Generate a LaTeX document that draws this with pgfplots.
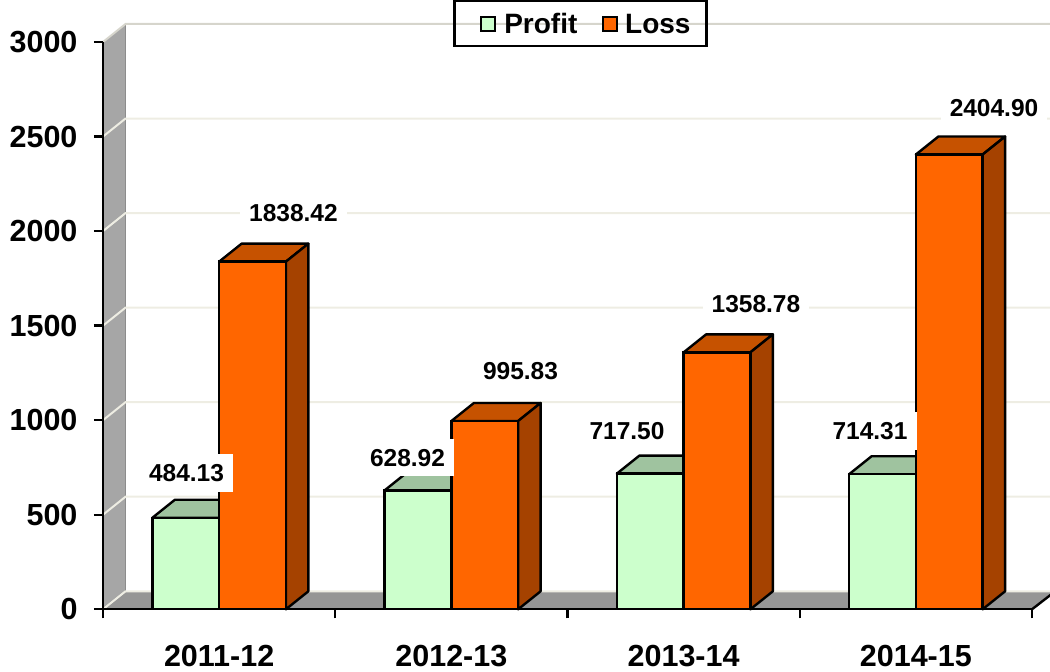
\documentclass[border=0pt]{standalone}
\usepackage{fontspec}
\setmainfont{Liberation Sans}
\usepackage{pgfplots}
\pgfplotsset{compat=1.18}
\definecolor{pgreen}{HTML}{CCFFCC}
\definecolor{pgreentop}{HTML}{9FC39F}
\definecolor{lorange}{HTML}{FF6600}
\definecolor{lorangetop}{HTML}{C65200}
\definecolor{lorangeside}{HTML}{A54200}
\definecolor{wallc}{HTML}{A6A6A6}
\definecolor{floorc}{HTML}{969696}
\definecolor{gridc}{HTML}{EEEDE3}
\newcommand{\topface}[4]{%
  \pgfmathsetmacro\xa{#1+0.09688}\pgfmathsetmacro\xb{#2+0.09688}\pgfmathsetmacro\yb{#3+95.2}%
  \edef\tmp{\noexpand\addplot[fill=#4,draw=black,line width=2.4pt,line join=round,forget plot] coordinates {(#1,#3)(\xa,\yb)(\xb,\yb)(#2,#3)} --cycle;}\tmp}
\newcommand{\sideface}[3]{%
  \pgfmathsetmacro\xb{#1+0.09688}\pgfmathsetmacro\yb{#2+95.2}%
  \edef\tmp{\noexpand\addplot[fill=#3,draw=black,line width=2.4pt,line join=round,forget plot] coordinates {(#1,0)(\xb,95.2)(\xb,\yb)(#1,#2)} --cycle;}\tmp}
\newcommand{\gridat}[2]{%
  \pgfmathsetmacro\yb{#1+95.2}%
  \edef\tmp{\noexpand\addplot[draw=#2,line width=2pt,forget plot] coordinates {(0,#1)(0.09688,\yb)(4.1,\yb)};}\tmp}
\tikzset{dlab/.style={fill=white,font=\fontsize{24.5}{24.5}\selectfont\bfseries,inner xsep=9pt,inner ysep=10pt,text height=17.5pt,text depth=0pt}}
\begin{document}
\begin{tikzpicture}
\begin{axis}[
  name=main,
  at={(103pt,62.7pt)},anchor=south west,
  scale only axis,width=929pt,height=567.3pt,
  xmin=0,xmax=4,ymin=0,ymax=3000,clip=false,
  axis x line*=bottom,axis y line*=left,
  axis line style={line width=2.4pt,black,-},
  tick align=outside,major tick length=9pt,
  tick style={line width=2.4pt,black},
  minor tick num=0,
  xtick={0,1,2,3,4},
  x tick label as interval,
  xticklabels={2011-12,2012-13,2013-14,2014-15},
  ytick={0,500,1000,1500,2000,2500,3000},
  /pgf/number format/assume math mode=true,
  /pgf/number format/1000 sep={},
  ticklabel style={font=\fontsize{30.5}{30.5}\selectfont\bfseries},
  xticklabel style={yshift=-23pt},
  yticklabel style={xshift=-13pt},
  axis on top,
  legend columns=2,
  legend style={at={(axis description cs:0.514,1.074)},anchor=north,fill=none,draw=black,line width=2.4pt,
    font=\fontsize{28}{28}\selectfont\bfseries,
    inner xsep=26pt,inner ysep=10.5pt,
    /tikz/every even column/.append style={column sep=23pt},
    nodes={inner xsep=2pt,text height=20pt,text depth=0pt}},
]
% walls
\addplot[fill=wallc,draw=none,forget plot] coordinates {(0,0)(0.09688,95.2)(0.09688,3095.2)(0,3000)} --cycle;
\addplot[fill=floorc,draw=none,forget plot] coordinates {(0,0)(0.09688,95.2)(4.1,95.2)(4,0)} --cycle;
\addplot[draw=black!45,line width=1pt,forget plot] coordinates {(0.09688,95.2)(0.09688,3095.2)};
\gridat{0}{gridc}
\gridat{500}{gridc}
\gridat{1000}{gridc}
\gridat{1500}{gridc}
\gridat{2000}{gridc}
\gridat{2500}{gridc}
\gridat{3000}{gridc!90!black}
\addplot[draw=black,line width=2.4pt,forget plot] coordinates {(4,0)(4.1,95.2)};
% profit
\topface{0.2126}{0.5}{484.13}{pgreentop}
\topface{1.2126}{1.5}{628.92}{pgreentop}
\topface{2.2126}{2.5}{717.50}{pgreentop}
\topface{3.2126}{3.5}{714.31}{pgreentop}
\addplot[ybar,bar width=66.75pt,bar shift=-33.4pt,fill=pgreen,draw=black,line width=2.4pt,forget plot]
  coordinates {(0.5,484.13)(1.5,628.92)(2.5,717.50)(3.5,714.31)};
% loss
\topface{0.5}{0.7874}{1838.42}{lorangetop}
\topface{1.5}{1.7874}{995.83}{lorangetop}
\topface{2.5}{2.7874}{1358.78}{lorangetop}
\topface{3.5}{3.7874}{2404.90}{lorangetop}
\sideface{0.7874}{1838.42}{lorangeside}
\sideface{1.7874}{995.83}{lorangeside}
\sideface{2.7874}{1358.78}{lorangeside}
\sideface{3.7874}{2404.90}{lorangeside}
\addplot[ybar,bar width=66.75pt,bar shift=33.4pt,fill=lorange,draw=black,line width=2.4pt,forget plot]
  coordinates {(0.5,1838.42)(1.5,995.83)(2.5,1358.78)(3.5,2404.90)};
% labels
\node[dlab] at (axis cs:0.3595,722) {484.13};
\node[dlab] at (axis cs:1.3110,803) {628.92};
\node[dlab] at (axis cs:2.2562,942) {717.50};
\node[dlab] at (axis cs:3.3026,942) {714.31};
\node[dlab] at (axis cs:0.8200,2096) {1838.42};
\node[dlab] at (axis cs:1.7977,1262) {995.83};
\node[dlab] at (axis cs:2.8115,1614) {1358.78};
\node[dlab] at (axis cs:3.8365,2650) {2404.90};
% legend
\addlegendimage{legend image code/.code={\draw[draw=black,line width=1.8pt,fill=pgreen] (0pt,-7pt) rectangle (14pt,7pt);}}
\addlegendentry{\hspace*{6pt}Profit}
\addlegendimage{legend image code/.code={\draw[draw=black,line width=1.8pt,fill=lorange] (0pt,-7pt) rectangle (14pt,7pt);}}
\addlegendentry{\hspace*{5pt}Loss\hspace*{-12pt}}
\end{axis}
\pgfresetboundingbox
\path[use as bounding box] (0,0) rectangle (1050pt,672pt);
\end{tikzpicture}
\end{document}
